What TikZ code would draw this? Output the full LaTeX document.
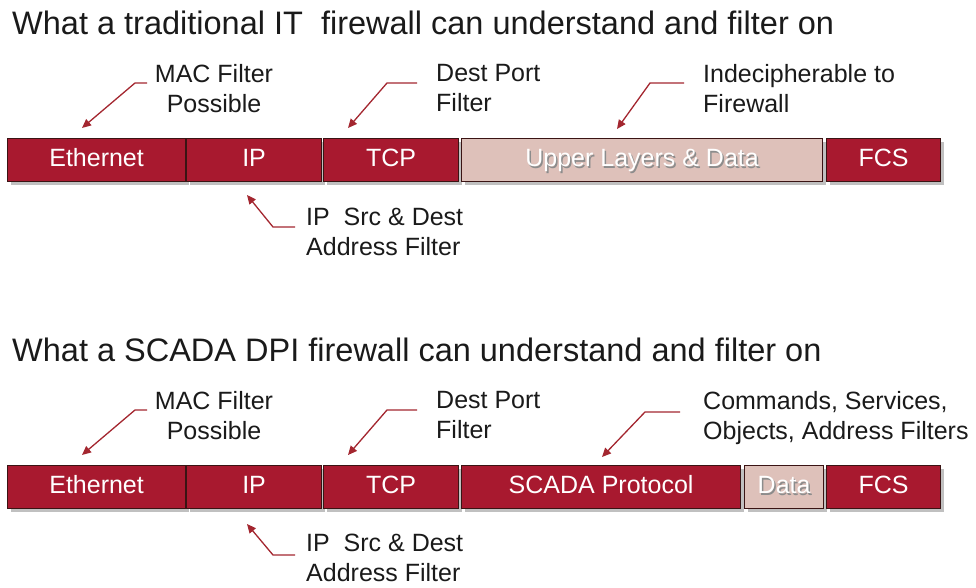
\documentclass[tikz,border=0pt]{standalone}
\usepackage{fontspec}
\setmainfont{Liberation Sans}
\usetikzlibrary{arrows.meta,shadows}
\definecolor{boxred}{HTML}{A8192F}
\definecolor{boxpink}{HTML}{DEC1BA}
\definecolor{arrred}{HTML}{A3262F}
\definecolor{edge}{HTML}{3A1414}
\definecolor{txt}{HTML}{1A1A1A}
\newcommand{\shadowtxt}[1]{\rlap{\kern1.5pt\raisebox{-2pt}{\textcolor{black!45}{#1}}}#1}
\begin{document}
\begin{tikzpicture}[x=1pt,y=-1pt,
  field/.style={draw=edge, line width=1.2pt, fill=boxred, text=white,
    font=\fontsize{25}{27}\selectfont, minimum height=43pt, inner sep=0pt,
    text height=18pt, text depth=5pt, anchor=north west,
    drop shadow={shadow xshift=3pt, shadow yshift=-3pt, opacity=0.45, fill=black!55}},
  pinkfield/.style={field, fill=boxpink, text=white},
  lbl/.style={text=txt, font=\fontsize{25}{30}\selectfont, inner sep=0pt, align=left, anchor=north west},
  lblc/.style={lbl, align=center, anchor=north},
  title/.style={text=txt, font=\fontsize{32.5}{35}\selectfont, inner sep=0pt, anchor=base west},
  pointer/.style={draw=arrred, line width=1.3pt, -{Triangle[length=9pt,width=8pt]}}
]
\useasboundingbox (0,0) rectangle (976,588);

% ---------- Row 1 ----------
\node[title] (t1) at (12,35) {What a traditional IT \ firewall can understand and filter on};

\node[field, minimum width=178pt] (eth1) at (7,138) {Ethernet};
\node[field, minimum width=135pt] (ip1) at (186,138) {IP};
\node[field, minimum width=135pt] (tcp1) at (323,138) {TCP};
\node[pinkfield, minimum width=361pt] (up1) at (461,138) {\shadowtxt{Upper Layers \& Data}};
\node[field, minimum width=114pt] (fcs1) at (826,138) {FCS};

\node[lblc] (mac1) at (214,64) {MAC Filter\\Possible};
\node[lbl] (dp1) at (436,64) {Dest Port\\Filter};
\node[lbl] (ind1) at (703,64) {Indecipherable to\\Firewall};
\node[lbl] (ips1) at (306,208) {IP \ Src \& Dest\\Address Filter};

\coordinate (a1s) at (147,83); \coordinate (a1b) at (135,83); \coordinate (a1e) at (82,128);
\coordinate (b1s) at (417,83); \coordinate (b1b) at (387,83); \coordinate (b1e) at (348,128);
\coordinate (c1s) at (684,83); \coordinate (c1b) at (650,83); \coordinate (c1e) at (617,129);
\coordinate (d1s) at (295,227); \coordinate (d1b) at (273,227); \coordinate (d1e) at (247,195);
\draw[pointer] (a1s) -- (a1b) -- (a1e);
\draw[pointer] (b1s) -- (b1b) -- (b1e);
\draw[pointer] (c1s) -- (c1b) -- (c1e);
\draw[pointer] (d1s) -- (d1b) -- (d1e);

% ---------- Row 2 ----------
\node[title] (t2) at (12,361) {What a SCADA DPI firewall can understand and filter on};

\node[field, minimum width=178pt] (eth2) at (7,465) {Ethernet};
\node[field, minimum width=135pt] (ip2) at (186,465) {IP};
\node[field, minimum width=135pt] (tcp2) at (323,465) {TCP};
\node[field, minimum width=279pt] (sp2) at (461,465) {SCADA Protocol};
\node[pinkfield, minimum width=79pt] (dat2) at (744,465) {\shadowtxt{Data}};
\node[field, minimum width=114pt] (fcs2) at (826,465) {FCS};

\node[lblc] (mac2) at (214,391) {MAC Filter\\Possible};
\node[lbl] (dp2) at (436,391) {Dest Port\\Filter};
\node[lbl] (cmd2) at (703,391) {Commands, Services,\\Objects, Address Filters};
\node[lbl] (ips2) at (306,534) {IP \ Src \& Dest\\Address Filter};

\coordinate (a2s) at (147,410); \coordinate (a2b) at (135,410); \coordinate (a2e) at (82,455);
\coordinate (b2s) at (417,410); \coordinate (b2b) at (387,410); \coordinate (b2e) at (348,455);
\coordinate (c2s) at (680,412); \coordinate (c2b) at (645,412); \coordinate (c2e) at (602,457);
\coordinate (d2s) at (295,555); \coordinate (d2b) at (273,555); \coordinate (d2e) at (247,524);
\draw[pointer] (a2s) -- (a2b) -- (a2e);
\draw[pointer] (b2s) -- (b2b) -- (b2e);
\draw[pointer] (c2s) -- (c2b) -- (c2e);
\draw[pointer] (d2s) -- (d2b) -- (d2e);
\end{tikzpicture}
\end{document}
